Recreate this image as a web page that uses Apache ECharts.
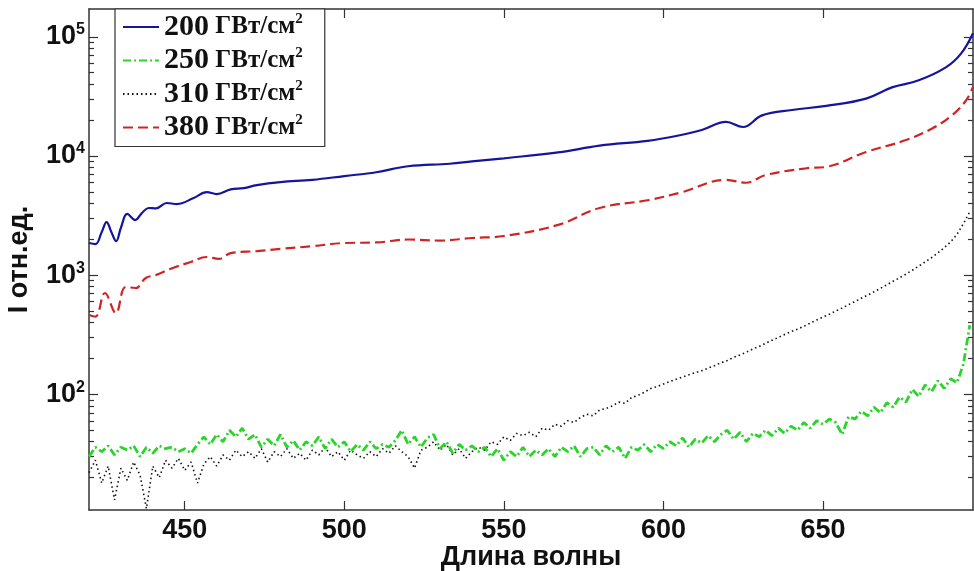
<!DOCTYPE html>
<html>
<head>
<meta charset="utf-8">
<script src="https://cdn.jsdelivr.net/npm/echarts@6/dist/echarts.min.js"></script>
<style>
html,body{margin:0;padding:0;background:#fff;}
#chart{width:974px;height:571px;}
</style>
</head>
<body>
<div id="chart"></div>
<script>
// ---- Data ----
const seriesNames = ['200', '250', '310', '380'];
const unitText = 'ГВт/см';

const xTickValues = [450, 500, 550, 600, 650];
const yLabelValues = [100, 1000, 10000, 100000];
const yMinorValues = [20,30,40,50,60,70,80,90,200,300,400,500,600,700,800,900,
  2000,3000,4000,5000,6000,7000,8000,9000,20000,30000,40000,50000,60000,70000,80000,90000];

// 200 GW/cm2 (blue, solid)
const blueX = [420,422,424,425.5,427,428.5,430,432,434.5,436.5,438.7,441,444.4,447.5,452.8,456.9,460,464.4,468.5,472.6,
  480,490,500,510,520,533,540,550,567,580,595,604,612,619.6,624.9,630.9,640.3,651,663.5,671.6,680,688.6,693.3,697];
const blueY = [1860,1820,2300,2790,2300,1930,2500,3260,2900,3300,3660,3630,4030,3950,4440,4980,4790,5250,5370,5700,
  6040,6300,6780,7300,8200,8600,9000,9560,10700,12200,13400,14700,16500,19300,17500,21900,24300,26300,30300,37600,43100,55600,72500,107000];

// 380 GW/cm2 (red, dashed)
const redX = [420,422,425,428.4,431.5,434.6,437.8,440.9,445.6,451.9,456.9,460.7,464.4,472.6,480,490,500,510,520,530,
  540,550,567,580,595.5,605.8,619.6,625.9,632,644.7,651,663.5,676,684.2,690.4,694.8,697];
const redY = [463,449,708,480,795,780,946,1000,1130,1290,1420,1370,1530,1590,1660,1750,1860,1880,1990,1950,
  2050,2130,2640,3660,4270,4970,6300,5960,6920,7880,8100,10800,13600,17000,21900,29200,38000];

// common wavelength grid for the noisy spectra
const noisyX = [
  420,422,424,426,428,430,432,434,436,438,
  440,442,444,446,448,450,452,454,456,458,
  460,462,464,466,468,470,472,474,476,478,
  480,482,484,486,488,490,492,494,496,498,
  500,502,504,506,508,510,512,514,516,518,
  520,522,524,526,528,530,532,534,536,538,
  540,542,544,546,548,550,552,554,556,558,
  560,562,564,566,568,570,572,574,576,578,
  580,582,584,586,588,590,592,594,596,598,
  600,602,604,606,608,610,612,614,616,618,
  620,622,624,626,628,630,632,634,636,638,
  640,642,644,646,648,650,652,654,656,658,
  660,662,664,666,668,670,672,674,676,678,
  680,682,684,686,688,690,692,694,696];

// 250 GW/cm2 (green, dash-dot)
const greenY = [
  30,36,33,37,31,36,34,37,30,36,
  32,37,35,36,33,35,32,38,44,38,
  46,40,50,44,52,42,46,36,42,37,
  46,36,41,34,40,37,44,35,42,36,
  40,33,38,34,40,35,38,36,41,50,
  38,44,36,43,46,35,40,32,38,34,
  37,33,36,30,35,28,33,30,36,30,
  34,31,35,30,36,33,37,30,35,36,
  31,37,33,36,29,36,34,38,33,38,
  35,40,37,43,36,42,39,45,40,46,
  50,42,48,40,47,44,50,45,52,47,
  54,50,58,52,60,56,62,58,46,65,
  62,72,66,78,70,85,78,95,86,110,
  96,120,105,130,112,135,125,180,380];

// 310 GW/cm2 (black, dotted)
const blackY = [
  22,28,18,25,13,24,19,27,21,11,
  25,20,28,24,29,23,27,18,26,30,
  25,31,28,34,30,33,29,35,27,33,
  30,35,29,32,28,34,31,36,30,33,
  28,34,31,29,33,30,35,32,37,33,
  30,24,34,36,40,34,38,31,35,29,
  33,36,34,40,38,44,41,47,45,48,
  44,52,50,56,54,60,58,64,68,66,
  74,76,80,86,84,94,98,104,112,116,
  122,128,134,140,146,152,158,166,174,184,
  192,204,214,226,240,252,268,284,300,318,
  336,352,372,396,420,445,470,500,530,565,
  600,640,680,725,775,830,890,950,1020,1100,
  1190,1290,1400,1540,1700,1900,2200,2700,3400];

// ---- Build ----
function pairs(xs, ys) { return xs.map((x, i) => [x, ys[i]]); }

const X_MIN = 420, X_MAX = 697;
const Y_MIN = 10.7, Y_MAX = 171000;
const frameColor = '#333';
const sansBold = { fontFamily: 'Liberation Sans, Arial, sans-serif', fontWeight: 'bold', color: '#111' };

function xAxisDef(pos, showLabels) {
  return {
    type: 'value', position: pos, min: X_MIN, max: X_MAX,
    axisLine: { show: true, lineStyle: { color: frameColor, width: 1.5 } },
    axisTick: { show: true, inside: true, length: 9, customValues: xTickValues, lineStyle: { color: frameColor, width: 1.2 } },
    axisLabel: showLabels ? Object.assign({ show: true, customValues: xTickValues, fontSize: 27, margin: 7 }, sansBold) : { show: false },
    splitLine: { show: false },
    name: showLabels ? 'Длина волны' : '',
    nameLocation: 'middle', nameGap: 34, nameMoveOverlap: false,
    nameTextStyle: Object.assign({ fontSize: 27 }, sansBold)
  };
}

function yAxisDef(pos, major, showLabels) {
  const d = {
    type: 'log', logBase: 10, position: pos, min: Y_MIN, max: Y_MAX,
    axisLine: { show: major, lineStyle: { color: frameColor, width: 1.5 } },
    axisTick: { show: true, inside: true, length: major ? 9 : 5,
      customValues: major ? yLabelValues : yMinorValues, lineStyle: { color: frameColor, width: 1.2 } },
    axisLabel: { show: false },
    splitLine: { show: false }
  };
  if (showLabels) {
    d.axisLabel = {
      show: true, customValues: yLabelValues, margin: 4,
      formatter: v => '{b|10}{s|' + Math.round(Math.log10(v)) + '}',
      rich: {
        b: Object.assign({ fontSize: 27, lineHeight: 30 }, sansBold),
        s: Object.assign({ fontSize: 16, verticalAlign: 'top', lineHeight: 16 }, sansBold)
      }
    };
    d.name = 'I отн.ед.';
    d.nameLocation = 'middle';
    d.nameGap = 56;
    d.nameMoveOverlap = false;
    d.nameTextStyle = Object.assign({ fontSize: 27 }, sansBold);
  }
  return d;
}

const legendRich = {
  n: { fontFamily: 'Liberation Serif, Times New Roman, serif', fontWeight: 'bold', fontSize: 30, color: '#111', lineHeight: 30 },
  u: { fontFamily: 'Liberation Serif, Times New Roman, serif', fontWeight: 'bold', fontSize: 25, color: '#111', lineHeight: 30, padding: [0, 0, 0, 3] },
  s: { fontFamily: 'Liberation Serif, Times New Roman, serif', fontWeight: 'bold', fontSize: 15, color: '#111', verticalAlign: 'top', lineHeight: 15 }
};

const option = {
  animation: false,
  backgroundColor: '#fff',
  grid: { left: 89, right: 1, top: 9, bottom: 61, containLabel: false, outerBoundsMode: 'none' },
  legend: {
    orient: 'vertical', left: 115, top: 9,
    backgroundColor: '#fff', borderColor: '#333', borderWidth: 1.2,
    padding: [3, 22, 4, 7],
    itemWidth: 36, itemHeight: 14, itemGap: 3.5,
    itemStyle: { opacity: 0 },
    data: seriesNames,
    formatter: name => '{n|' + name + '} {u|' + unitText + '}{s|2}',
    textStyle: { rich: legendRich }
  },
  xAxis: [xAxisDef('bottom', true), xAxisDef('top', false)],
  yAxis: [yAxisDef('left', true, true), yAxisDef('left', false, false), yAxisDef('right', true, false), yAxisDef('right', false, false)],
  series: [
    { name: seriesNames[0], type: 'line', data: pairs(blueX, blueY), showSymbol: false, symbol: 'none', smooth: 0.4,
      lineStyle: { color: '#14149e', width: 2.2, type: 'solid' }, itemStyle: { color: '#14149e' }, z: 4 },
    { name: seriesNames[1], type: 'line', data: pairs(noisyX, greenY), showSymbol: false, symbol: 'none',
      lineStyle: { color: '#2ad42a', width: 2.8, type: [8, 3, 2, 3] }, itemStyle: { color: '#2ad42a' }, z: 3 },
    { name: seriesNames[2], type: 'line', data: pairs(noisyX, blackY), showSymbol: false, symbol: 'none',
      lineStyle: { color: '#111', width: 1.6, type: [1.5, 3] }, itemStyle: { color: '#111' }, z: 2 },
    { name: seriesNames[3], type: 'line', data: pairs(redX, redY), showSymbol: false, symbol: 'none', smooth: 0.4,
      lineStyle: { color: '#d02424', width: 2.2, type: [10, 5] }, itemStyle: { color: '#d02424' }, z: 4 }
  ]
};

const chart = echarts.init(document.getElementById('chart'), null, { renderer: 'canvas' });
chart.setOption(option);
</script>
</body>
</html>
